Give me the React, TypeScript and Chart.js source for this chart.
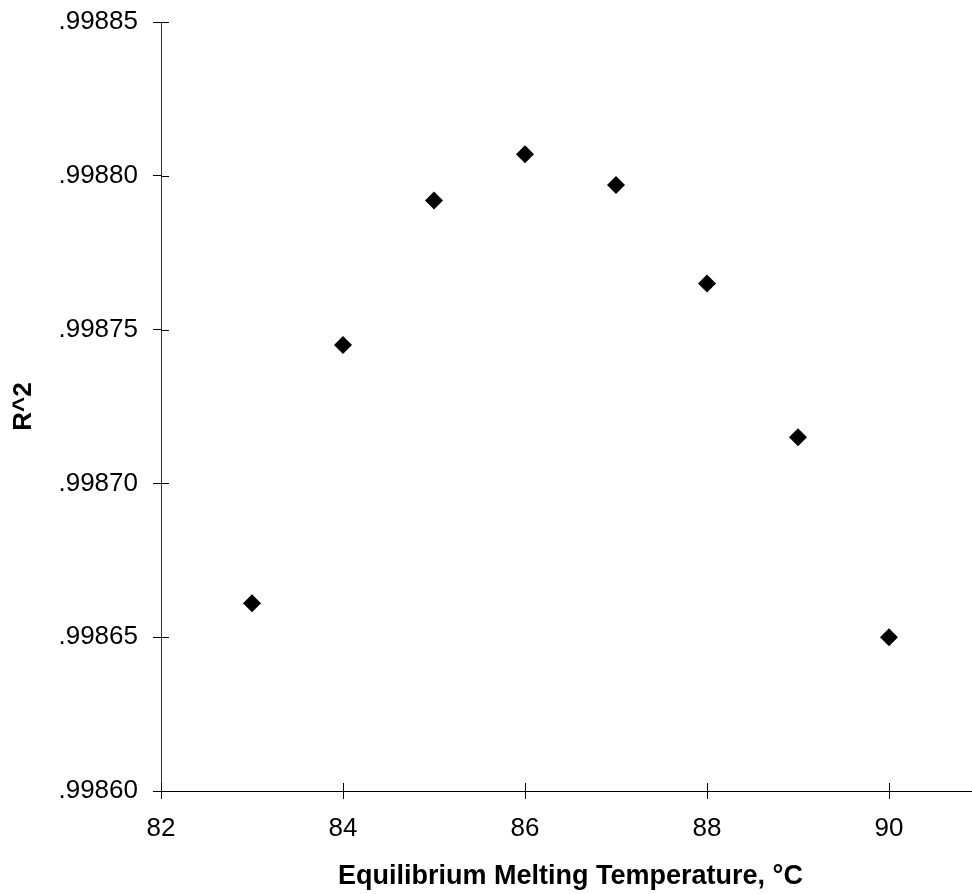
import React, { useEffect, useRef } from "react";
import { Chart, registerables } from "chart.js";

Chart.register(...registerables);

const temperatures = [83, 84, 85, 86, 87, 88, 89, 90];
const rSquared = [0.998661, 0.998745, 0.998792, 0.998807, 0.998797, 0.998765, 0.998715, 0.99865];
const xTickValues = [82, 84, 86, 88, 90];
const yTickValues = [0.9986, 0.99865, 0.9987, 0.99875, 0.9988, 0.99885];
const yTitle = "R^2";
const xTitle = "Equilibrium Melting Temperature, °C";

const FONT = "'Liberation Sans', Arial, sans-serif";

const innerTicks = {
  id: "innerTicks",
  afterDraw(chart: any) {
    const ctx = chart.ctx;
    const x = chart.scales.x;
    const y = chart.scales.y;
    const len = 8;
    ctx.save();
    ctx.strokeStyle = "#000";
    ctx.lineWidth = 1;
    ctx.beginPath();
    y.ticks.forEach((_t: any, i: number) => {
      const py = Math.round(y.getPixelForTick(i)) + 0.5;
      ctx.moveTo(chart.chartArea.left, py);
      ctx.lineTo(chart.chartArea.left + len, py);
    });
    x.ticks.forEach((_t: any, i: number) => {
      const px = Math.round(x.getPixelForTick(i)) + 0.5;
      ctx.moveTo(px, chart.chartArea.bottom);
      ctx.lineTo(px, chart.chartArea.bottom - len);
    });
    ctx.stroke();
    ctx.restore();
  },
};

export default function App() {
  const ref = useRef<HTMLCanvasElement | null>(null);

  useEffect(() => {
    if (!ref.current) return;
    const chart = new Chart(ref.current, {
      type: "scatter",
      data: {
        datasets: [
          {
            data: temperatures.map((t, i) => ({ x: t, y: rSquared[i] })),
            pointStyle: "rectRot",
            pointRadius: 9,
            pointHoverRadius: 9,
            backgroundColor: "#000",
            borderColor: "#000",
            borderWidth: 0,
          },
        ],
      },
      options: {
        animation: false,
        responsive: false,
        maintainAspectRatio: false,
        layout: { padding: { top: 22, right: 0, left: 0, bottom: 0 } },
        plugins: {
          legend: { display: false },
          tooltip: { enabled: false },
        },
        scales: {
          x: {
            type: "linear",
            min: 82,
            max: 91,
            afterFit: (s: any) => {
              s.height = 103;
              s.paddingLeft = 0;
              s.paddingRight = 0;
            },
            afterBuildTicks: (s: any) => {
              s.ticks = xTickValues.map((v) => ({ value: v }));
            },
            border: { display: true, color: "#000", width: 1 },
            grid: { drawOnChartArea: false, drawTicks: true, tickLength: 8, color: "#000" },
            ticks: {
              color: "#000",
              padding: 14,
              font: { family: FONT, size: 26 },
              callback: (v: any) => String(v),
            },
            title: {
              display: true,
              text: xTitle,
              color: "#000",
              font: { family: FONT, size: 27, weight: "bold" },
              padding: { top: 0, bottom: 1 },
            },
          },
          y: {
            type: "linear",
            min: 0.9986,
            max: 0.99885,
            afterFit: (s: any) => {
              s.width = 161;
              s.paddingTop = 0;
              s.paddingBottom = 0;
            },
            afterBuildTicks: (s: any) => {
              s.ticks = yTickValues.map((v) => ({ value: v }));
            },
            border: { display: true, color: "#333", width: 1 },
            grid: { drawOnChartArea: false, drawTicks: true, tickLength: 8, color: "#000" },
            ticks: {
              color: "#000",
              padding: 15,
              font: { family: FONT, size: 26 },
              callback: (v: any) => Number(v).toFixed(5).replace(/^0/, ""),
            },
            title: {
              display: true,
              text: yTitle,
              color: "#000",
              font: { family: FONT, size: 26, weight: "bold" },
              padding: { top: 8, bottom: 0 },
            },
          },
        },
      },
      plugins: [innerTicks],
    });
    return () => chart.destroy();
  }, []);

  return (
    <div
      style={{
        position: "fixed",
        left: 0,
        top: 0,
        width: 972,
        height: 894,
        overflow: "hidden",
        background: "#fff",
      }}
    >
      <canvas ref={ref} width={989} height={894} style={{ display: "block" }} />
    </div>
  );
}
